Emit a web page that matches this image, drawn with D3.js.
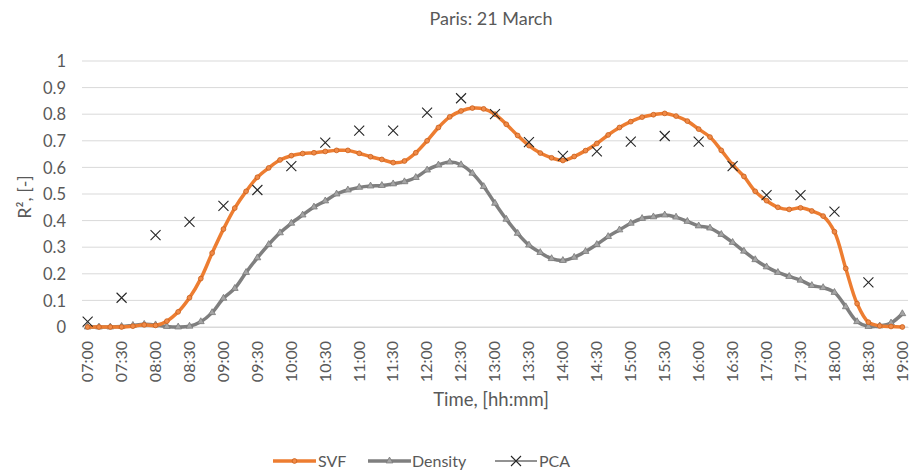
<!DOCTYPE html>
<html>
<head>
<meta charset="utf-8">
<script src="https://cdn.jsdelivr.net/npm/d3@7"></script>
<style>
  body { margin: 0; background: #fff; }
  text { font-family: Lato, "Open Sans", sans-serif; fill: #595959; }
</style>
</head>
<body>
<div id="chart"></div>
<script>
// Tick labels on the time axis (every 30 min)
const tickLabels = ["07:00","07:30","08:00","08:30","09:00","09:30","10:00","10:30","11:00","11:30",
  "12:00","12:30","13:00","13:30","14:00","14:30","15:00","15:30","16:00","16:30",
  "17:00","17:30","18:00","18:30","19:00"];

// 10-minute categories from 07:00 to 19:00
const times = [];
tickLabels.forEach((t, k) => {
  times.push(t);
  if (k < tickLabels.length - 1) {
    const h = t.slice(0, 3);
    const m = +t.slice(3);
    times.push(h + String(m + 10).padStart(2, "0"), h + String(m + 20).padStart(2, "0"));
  }
});

const svf = [0, 0, 0, 0, 0.003, 0.008, 0.006, 0.022, 0.057, 0.11,
  0.182, 0.278, 0.368, 0.447, 0.51, 0.563, 0.598, 0.628, 0.644, 0.652,
  0.655, 0.66, 0.664, 0.664, 0.653, 0.64, 0.63, 0.618, 0.624, 0.655,
  0.70, 0.75, 0.79, 0.812, 0.823, 0.82, 0.80, 0.762, 0.72, 0.682,
  0.654, 0.636, 0.626, 0.641, 0.663, 0.69, 0.722, 0.75, 0.772, 0.789,
  0.798, 0.803, 0.793, 0.774, 0.744, 0.714, 0.664, 0.61, 0.566, 0.51,
  0.475, 0.45, 0.442, 0.448, 0.436, 0.417, 0.358, 0.22, 0.088, 0.018,
  0.004, 0.002, 0];

const density = [0, 0, 0, 0.002, 0.006, 0.01, 0.008, 0.002, 0, 0.003,
  0.02, 0.054, 0.108, 0.145, 0.205, 0.26, 0.31, 0.354, 0.39, 0.421,
  0.451, 0.474, 0.5, 0.515, 0.525, 0.53, 0.532, 0.538, 0.546, 0.562,
  0.59, 0.609, 0.62, 0.61, 0.578, 0.528, 0.465, 0.405, 0.352, 0.308,
  0.28, 0.257, 0.25, 0.262, 0.284, 0.31, 0.34, 0.365, 0.39, 0.408,
  0.414, 0.421, 0.413, 0.397, 0.38, 0.372, 0.348, 0.318, 0.285, 0.253,
  0.226, 0.205, 0.19, 0.176, 0.156, 0.148, 0.13, 0.076, 0.02, 0.002,
  0.004, 0.015, 0.05];

// PCA every 30 min (no value at 19:00)
const pca = [0.02, 0.11, 0.345, 0.395, 0.455, 0.515, 0.605, 0.693, 0.738, 0.738,
  0.806, 0.86, 0.80, 0.695, 0.643, 0.66, 0.697, 0.718, 0.697, 0.605,
  0.496, 0.496, 0.434, 0.168, null];

const yTicks = [0, 0.1, 0.2, 0.3, 0.4, 0.5, 0.6, 0.7, 0.8, 0.9, 1];

const width = 911, height = 475;
const plotLeft = 82, plotRight = 908, plotTop = 61, plotBottom = 327;

const svg = d3.select("#chart").append("svg")
  .attr("width", width).attr("height", height);

const x = d3.scalePoint().domain(times).range([plotLeft, plotRight]).padding(0.5);
const y = d3.scaleLinear().domain([0, 1]).range([plotBottom, plotTop]);

// gridlines
svg.append("g")
  .selectAll("line")
  .data(yTicks)
  .enter()
  .append("line")
  .attr("x1", plotLeft).attr("x2", plotRight)
  .attr("y1", d => y(d)).attr("y2", d => y(d))
  .attr("stroke", "#d9d9d9").attr("stroke-width", 1);

// y axis labels
const yAxis = svg.append("g")
  .attr("transform", `translate(${plotLeft - 16},0)`)
  .call(d3.axisLeft(y).tickValues(yTicks).tickSize(0).tickFormat(d3.format("")));
yAxis.select(".domain").remove();
yAxis.selectAll("text").attr("font-size", 16.5).attr("x", 0).attr("dy", "0.35em");

// x axis
const xAxis = svg.append("g")
  .attr("transform", `translate(0,${plotBottom})`)
  .call(d3.axisBottom(x).tickValues(tickLabels).tickSize(0));
xAxis.select(".domain").attr("stroke", "#d9d9d9");
xAxis.selectAll("text")
  .attr("font-size", 16)
  .attr("transform", "rotate(-90)")
  .attr("x", -14).attr("y", 0).attr("dy", "0.3em")
  .attr("text-anchor", "end");

// titles
svg.append("text").attr("x", 491).attr("y", 25).attr("text-anchor", "middle")
  .attr("font-size", 18).text("Paris: 21 March");
svg.append("text").attr("x", 491).attr("y", 406).attr("text-anchor", "middle")
  .attr("font-size", 18.5).text("Time, [hh:mm]");
svg.append("text").attr("transform", "translate(31,197) rotate(-90)")
  .attr("text-anchor", "middle").attr("font-size", 18).text("R², [-]");

const line = d3.line()
  .x((d, i) => x(times[i]))
  .y(d => y(d))
  .curve(d3.curveCatmullRom.alpha(0.5));

const orange = "#ED7D31", gray = "#7F7F7F";
const tri = d3.symbol().type(d3.symbolTriangle).size(20);

// Density
svg.append("path").datum(density).attr("d", line)
  .attr("fill", "none").attr("stroke", gray).attr("stroke-width", 3.5);
svg.append("g").selectAll("path").data(density).enter().append("path")
  .attr("d", tri)
  .attr("transform", (d, i) => `translate(${x(times[i])},${y(d)})`)
  .attr("fill", "#a5a5a5").attr("stroke", "#7a7a7a").attr("stroke-width", 0.8);

// SVF
svg.append("path").datum(svf).attr("d", line)
  .attr("fill", "none").attr("stroke", orange).attr("stroke-width", 3.5);
svg.append("g").selectAll("circle").data(svf).enter().append("circle")
  .attr("cx", (d, i) => x(times[i]))
  .attr("cy", d => y(d))
  .attr("r", 2.4)
  .attr("fill", "#f08a47").attr("stroke", "#c9601c").attr("stroke-width", 0.8);

// PCA crosses
const cross = (g, cx, cy, s) => {
  g.append("path")
    .attr("d", `M${cx - s},${cy - s}L${cx + s},${cy + s}M${cx - s},${cy + s}L${cx + s},${cy - s}`)
    .attr("stroke", "#262626").attr("stroke-width", 1.1).attr("fill", "none");
};
const pcaG = svg.append("g");
pca.forEach((v, k) => {
  if (v === null) return;
  cross(pcaG, x(tickLabels[k]), y(v), 5);
});

// legend
const leg = svg.append("g");
const ly = 461;
leg.append("line").attr("x1", 273).attr("x2", 316).attr("y1", ly).attr("y2", ly)
  .attr("stroke", orange).attr("stroke-width", 3.5);
leg.append("circle").attr("cx", 294.5).attr("cy", ly).attr("r", 2.4)
  .attr("fill", "#f08a47").attr("stroke", "#c9601c").attr("stroke-width", 0.8);
leg.append("text").attr("x", 318).attr("y", ly).attr("dy", "0.35em")
  .attr("font-size", 16).text("SVF");

leg.append("line").attr("x1", 368).attr("x2", 411).attr("y1", ly).attr("y2", ly)
  .attr("stroke", gray).attr("stroke-width", 3.5);
leg.append("path").attr("d", tri).attr("transform", `translate(389.5,${ly})`)
  .attr("fill", "#a5a5a5").attr("stroke", "#7a7a7a").attr("stroke-width", 0.8);
leg.append("text").attr("x", 412).attr("y", ly).attr("dy", "0.35em")
  .attr("font-size", 16).text("Density");

leg.append("line").attr("x1", 495).attr("x2", 537).attr("y1", ly).attr("y2", ly)
  .attr("stroke", "#262626").attr("stroke-width", 1.1);
cross(leg, 516, ly, 5);
leg.append("text").attr("x", 539).attr("y", ly).attr("dy", "0.35em")
  .attr("font-size", 16).text("PCA");
</script>
</body>
</html>
